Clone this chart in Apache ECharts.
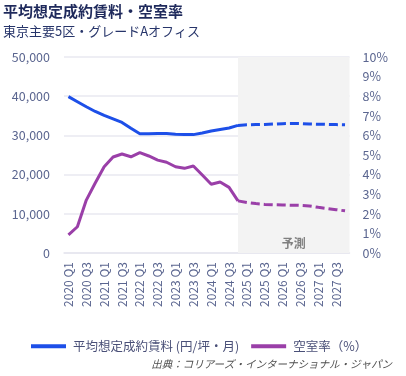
<!DOCTYPE html>
<html>
<head>
<meta charset="utf-8">
<script src="https://cdn.jsdelivr.net/npm/echarts@6/dist/echarts.min.js"></script>
<style>
html,body{margin:0;padding:0;background:#fff;}
#chart{width:406px;height:376px;}
</style>
</head>
<body>
<div id="chart"></div>
<script>
const categories = [
  '2020 Q1','2020 Q2','2020 Q3','2020 Q4',
  '2021 Q1','2021 Q2','2021 Q3','2021 Q4',
  '2022 Q1','2022 Q2','2022 Q3','2022 Q4',
  '2023 Q1','2023 Q2','2023 Q3','2023 Q4',
  '2024 Q1','2024 Q2','2024 Q3','2024 Q4',
  '2025 Q1','2025 Q2','2025 Q3','2025 Q4',
  '2026 Q1','2026 Q2','2026 Q3','2026 Q4',
  '2027 Q1','2027 Q2','2027 Q3','2027 Q4'
];
// 平均想定成約賃料 (円/坪・月) actual up to 2024 Q4
const rentActual = [39900,38600,37300,36100,35100,34200,33300,31800,30400,30400,30500,30500,30300,30200,30200,30600,31100,31500,31900,32550];
// forecast from 2024 Q4
const rentForecast = [32550,32700,32750,32800,32900,33000,33050,33000,32900,32850,32800,32750,32700];
// 空室率 (%) actual
const vacActual = [0.92,1.34,2.70,3.57,4.40,4.90,5.05,4.91,5.12,4.95,4.74,4.63,4.40,4.32,4.44,3.98,3.51,3.62,3.35,2.66];
const vacForecast = [2.66,2.58,2.52,2.48,2.46,2.45,2.44,2.43,2.40,2.33,2.27,2.21,2.15];
const leftTicks = [0,10000,20000,30000,40000,50000];
const rightTicks = [0,1,2,3,4,5,6,7,8,9,10];
const forecastStart = '2024 Q4';
const forecastLabel = '予測';
const rentName = '平均想定成約賃料 (円/坪・月)';
const vacName = '空室率（%）';

const forecastOffset = categories.indexOf(forecastStart);
function pad(arr, offset){
  const out = new Array(categories.length).fill(null);
  arr.forEach((v,i)=>{ out[i+offset] = v; });
  return out;
}

const FONT = '"Noto Sans CJK JP","Noto Sans",sans-serif';
const BLUE = '#1d4fe8';
const PURPLE = '#9a3fa8';
const AX = '#5b6690';

const chart = echarts.init(document.getElementById('chart'), null, {renderer:'canvas'});
chart.setOption({
  animation:false,
  textStyle:{fontFamily:FONT},
  title:{
    text:'平均想定成約賃料・空室率',
    subtext:'東京主要5区・グレードAオフィス',
    left:1, top:2, itemGap:6, padding:[2,2,2,2],
    textStyle:{fontFamily:FONT,fontSize:15,fontWeight:'bold',color:'#1f2a5c'},
    subtextStyle:{fontFamily:FONT,fontSize:13,color:'#27356a'}
  },
  grid:{left:64,right:56.5,top:57,bottom:123},
  legend:{
    left:26, top:335,
    itemWidth:35, itemHeight:4, itemGap:12,
    icon:'rect',
    data:[rentName, vacName],
    textStyle:{fontFamily:FONT,fontSize:12.5,color:'#4a5078',padding:[0,0,0,2]}
  },
  xAxis:{
    type:'category',
    data:categories,
    boundaryGap:true,
    axisLine:{show:true,lineStyle:{color:'#e6e6ee',width:1.5}},
    axisTick:{show:false},
    axisLabel:{interval:1,rotate:90,color:AX,fontSize:12,fontFamily:FONT,margin:9}
  },
  yAxis:[
    {type:'value',min:leftTicks[0],max:leftTicks[leftTicks.length-1],interval:10000,
     axisLine:{show:false},axisTick:{show:false},
     splitLine:{lineStyle:{color:'#e8e8f0',width:1.5}},
     axisLabel:{color:AX,fontSize:12.5,fontFamily:FONT,margin:14,
       formatter:v=>v.toLocaleString('en-US')}},
    {type:'value',min:rightTicks[0],max:rightTicks[rightTicks.length-1],interval:1,
     axisLine:{show:false},axisTick:{show:false},splitLine:{show:false},
     axisLabel:{color:AX,fontSize:12.5,fontFamily:FONT,margin:13,formatter:'{value}%'}}
  ],
  series:[
    {name:rentName,type:'line',yAxisIndex:0,data:pad(rentActual,0),
     symbol:'none',lineStyle:{color:BLUE,width:3},itemStyle:{color:BLUE},
     markArea:{silent:true,itemStyle:{color:'#f3f3f3'},
       label:{show:true,position:'insideBottom',distance:4,color:'#7f7f7f',fontSize:12,fontWeight:'bold',fontFamily:FONT},
       data:[[{xAxis:forecastStart,name:forecastLabel},{}]]},
     z:3},
    {name:rentName,type:'line',yAxisIndex:0,data:pad(rentForecast,forecastOffset),
     symbol:'none',lineStyle:{color:BLUE,width:3,type:[9,4]},itemStyle:{color:BLUE},z:3},
    {name:vacName,type:'line',yAxisIndex:1,data:pad(vacActual,0),
     symbol:'none',lineStyle:{color:PURPLE,width:3},itemStyle:{color:PURPLE},z:3},
    {name:vacName,type:'line',yAxisIndex:1,data:pad(vacForecast,forecastOffset),
     symbol:'none',lineStyle:{color:PURPLE,width:3,type:[9,4]},itemStyle:{color:PURPLE},z:3}
  ],
  graphic:[{
    type:'text', right:14, top:359,
    style:{text:'出典：コリアーズ・インターナショナル・ジャパン',
      font:'italic 10.5px "Noto Sans CJK JP"', fill:'#505050'}
  }]
});
</script>
</body>
</html>
